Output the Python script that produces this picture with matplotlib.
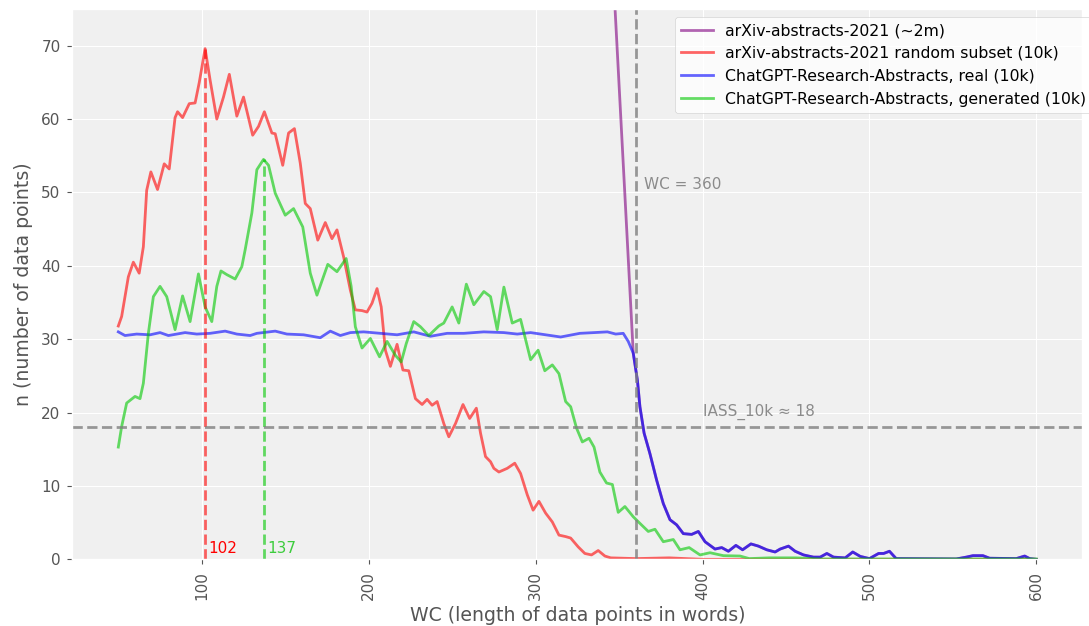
import matplotlib
matplotlib.use("Agg")
import matplotlib.pyplot as plt

# word-count distributions (smoothed counts per word count)
red_x = [50, 52, 56, 59, 62.5, 65, 67, 69.5, 73.5, 77.5, 80.5, 84, 85.5, 88.5, 92.5, 96, 98.5,
         102, 105, 109, 113, 116.5, 121, 125, 130.5, 134, 137.5, 142, 144, 148.5, 152, 155.5,
         159, 162, 165, 169.5, 174, 178, 181, 185, 189, 192, 196, 199, 202, 205, 207.5, 210,
         213, 217, 220.5, 224, 228, 232, 235, 238, 241, 245, 248, 252, 256.5, 260.5, 264.5,
         267, 270, 273, 275, 278, 283, 287.5, 291, 295, 298.5, 302, 306, 310, 314, 318, 321,
         325.5, 329.5, 333.5, 337.5, 341.5, 345, 360, 380, 400, 500, 600]
red_y = [31.8, 33.1, 38.5, 40.5, 39.0, 42.6, 50.3, 52.8, 50.4, 53.9, 53.2, 60.2, 61.0, 60.2,
         62.1, 62.2, 65.0, 69.6, 65.3, 60.0, 63.0, 66.1, 60.4, 63.0, 57.8, 59.0, 61.0, 58.1,
         58.0, 53.7, 58.1, 58.7, 54.0, 48.5, 47.8, 43.5, 45.9, 43.7, 44.9, 41.2, 36.7, 34.0,
         33.9, 33.7, 34.9, 36.9, 34.4, 28.5, 26.3, 29.3, 25.8, 25.7, 21.9, 21.1, 21.8, 21.0,
         21.5, 18.5, 16.7, 18.5, 21.1, 19.2, 20.6, 17.2, 14.0, 13.3, 12.4, 11.9, 12.4, 13.1,
         11.7, 8.8, 6.7, 7.9, 6.3, 5.1, 3.3, 3.1, 2.9, 1.7, 0.8, 0.6, 1.2, 0.45, 0.2, 0.1,
         0.2, 0.0, 0.0, 0.0]

green_x = [50, 52, 55, 60, 63, 65, 68, 71, 75, 79, 84, 88.5, 93, 98, 102, 106, 109, 111.5,
           115, 120, 124, 126, 130, 133, 137, 140, 144, 150, 155, 160.5, 165, 169, 175.5, 181,
           186.5, 189.5, 192, 196, 201, 206.5, 211, 216, 219.5, 222.5, 227, 231, 236, 242,
           245, 250, 254, 258.5, 263, 269, 273, 277, 281, 286, 291, 297, 301.5, 305.5, 310,
           314, 318, 321, 324.5, 328, 332, 335, 338.5, 342.5, 346, 349.5, 353.5, 358.5, 362.5,
           367.5, 371.5, 376.5, 382.5, 386.5, 392, 398.5, 404.5, 412.5, 422.5, 428, 440, 456,
           470, 600]
green_y = [15.3, 18.1, 21.3, 22.2, 21.9, 24.0, 30.8, 35.8, 37.2, 35.8, 31.3, 35.9, 32.4, 38.9,
           34.4, 32.4, 37.2, 39.3, 38.8, 38.2, 39.9, 42.2, 47.2, 53.1, 54.5, 53.7, 49.9, 46.9,
           47.8, 45.3, 39.0, 36.0, 40.2, 39.2, 41.0, 37.2, 31.7, 28.8, 30.1, 27.6, 29.7, 27.8,
           26.9, 29.4, 32.4, 31.7, 30.5, 31.8, 32.2, 34.4, 32.2, 37.5, 34.7, 36.5, 35.8, 31.3,
           37.1, 32.2, 32.7, 27.2, 28.5, 25.7, 26.5, 25.3, 21.5, 20.8, 17.9, 16.0, 16.5, 15.3,
           11.9, 10.4, 10.2, 6.4, 7.2, 5.8, 4.9, 3.8, 4.1, 2.4, 2.7, 1.3, 1.6, 0.6, 0.9, 0.5,
           0.45, 0.1, 0.2, 0.2, 0.05, 0.05]

blue_x = [50, 54, 61, 69, 75, 80, 90, 97, 105, 114, 121, 129, 133, 144, 151, 161, 171, 177,
          183, 189, 197, 207, 217, 227, 237, 247, 257, 269, 281, 289, 297, 306, 315, 326.5,
          335, 343, 348, 352.5, 355.5, 358.5, 361, 362.5, 365, 368.5, 372.5, 376.5, 380.5,
          384.5, 388.5, 393.5, 397.5, 401.5, 407.5, 411.5, 415.5, 420, 424, 429, 433.5, 438.5,
          443.5, 446.5, 451.5, 455.5, 460.5, 466.5, 470.5, 474.5, 478.5, 485.5, 490, 494.5,
          500, 505.5, 508.5, 512, 516, 552, 558, 562, 568, 572, 588, 593, 596, 600]
blue_y = [31.0, 30.5, 30.7, 30.6, 30.9, 30.5, 30.9, 30.7, 30.8, 31.1, 30.7, 30.5, 30.8, 31.1,
          30.7, 30.6, 30.2, 31.1, 30.5, 30.9, 31.0, 30.8, 30.6, 31.0, 30.4, 30.8, 30.8, 31.0,
          30.9, 30.7, 30.9, 30.6, 30.3, 30.8, 30.9, 31.0, 30.7, 30.8, 29.7, 28.1, 24.4, 20.8,
          17.2, 14.4, 10.8, 7.6, 5.4, 4.7, 3.5, 3.4, 3.8, 2.4, 1.4, 1.6, 1.1, 1.9, 1.3, 2.1,
          1.8, 1.3, 1.0, 1.4, 1.8, 1.1, 0.6, 0.3, 0.3, 0.8, 0.3, 0.2, 1.0, 0.4, 0.1, 0.8, 0.8,
          1.1, 0.1, 0.05, 0.3, 0.5, 0.5, 0.15, 0.1, 0.45, 0.1, 0.0]

# full dataset: huge counts below the cut, identical to the real subset above it
purple_head_x = [345, 358.5]
purple_head_y = [86.2, 28.1]
purple_x = purple_head_x + [x for x in blue_x if x > 358.5]
purple_y = purple_head_y + [y for x, y in zip(blue_x, blue_y) if x > 358.5]

labels = ["arXiv-abstracts-2021 (~2m)",
          "arXiv-abstracts-2021 random subset (10k)",
          "ChatGPT-Research-Abstracts, real (10k)",
          "ChatGPT-Research-Abstracts, generated (10k)"]

peak_red = 102
peak_green = 137
wc_cut = 360
iass = 18

plt.style.use("ggplot")
fig, ax = plt.subplots(figsize=(10.89, 6.26), dpi=100)
fig.subplots_adjust(left=0.0665, right=0.9938, bottom=0.1065, top=0.9856)
ax.set_facecolor("#f0f0f0")

ax.plot(purple_x, purple_y, color="purple", alpha=0.6, lw=2, label=labels[0])
ax.plot(red_x, red_y, color="red", alpha=0.6, lw=2, label=labels[1])
ax.plot(blue_x, blue_y, color="blue", alpha=0.6, lw=2, label=labels[2])
ax.plot(green_x, green_y, color="#00c800", alpha=0.6, lw=2, label=labels[3])

ax.vlines(peak_red, 0, red_y[red_x.index(peak_red)], colors="red", alpha=0.6,
          linestyles="--", lw=2)
ax.vlines(peak_green, 0, green_y[green_x.index(peak_green)], colors="#00c800", alpha=0.6,
          linestyles="--", lw=2)
ax.text(peak_red + 2, 0.4, str(peak_red), color="red", fontsize=11, va="bottom")
ax.text(peak_green + 2, 0.4, str(peak_green), color="#3ccc3c", fontsize=11, va="bottom")

ax.axvline(wc_cut, color="gray", alpha=0.8, linestyle="--", lw=2)
ax.axhline(iass, color="gray", alpha=0.8, linestyle="--", lw=2)
ax.text(wc_cut + 5, 50, f"WC = {wc_cut}", color="gray", alpha=0.9, fontsize=11, va="bottom")
ax.text(400, 19, f"IASS_10k \u2248 {iass}", color="gray", alpha=0.9, fontsize=11, va="bottom")

ax.set_xlim(22.5, 627.5)
ax.set_ylim(0, 75)
ax.tick_params(axis="x", labelrotation=90, labelsize=11, pad=5)
ax.tick_params(axis="y", labelsize=11, pad=5)
ax.set_xlabel("WC (length of data points in words)", fontsize=13.6)
ax.set_ylabel("n (number of data points)", fontsize=13.6, labelpad=6)
ax.legend(loc="upper right", bbox_to_anchor=(1.018, 1.0), fontsize=11.3,
          facecolor="white", framealpha=0.8)

fig.savefig("out.png")
